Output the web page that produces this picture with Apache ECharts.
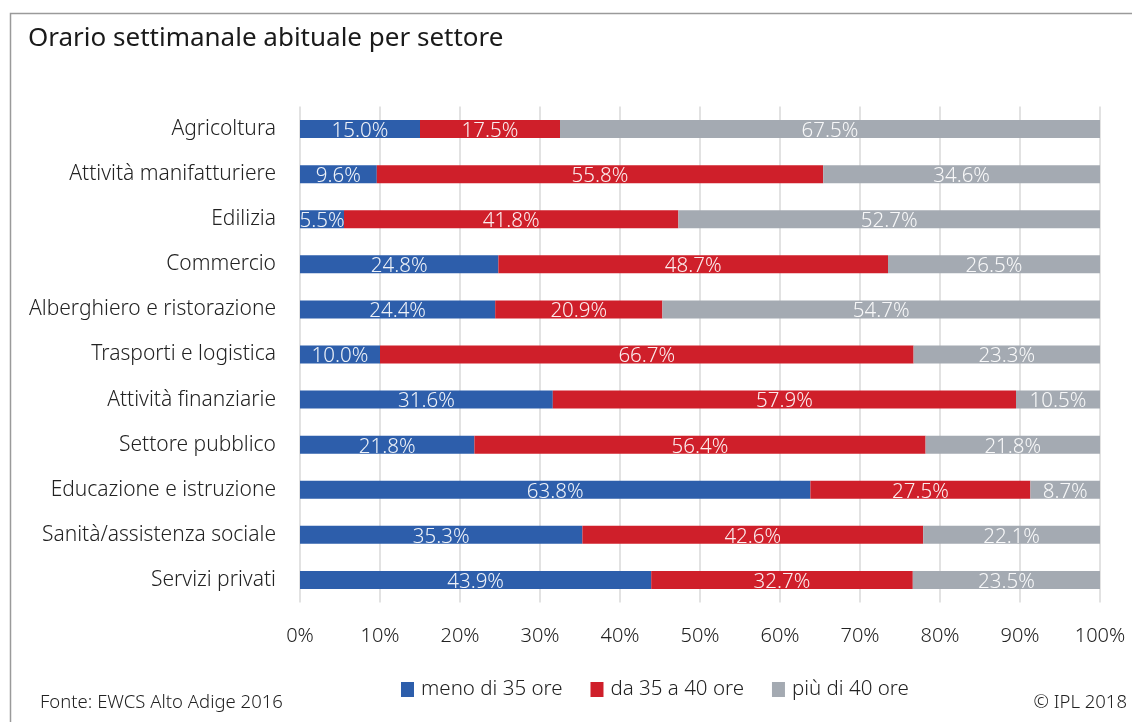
<!DOCTYPE html>
<html>
<head>
<meta charset="utf-8">
<script src="https://cdn.jsdelivr.net/npm/echarts@6/dist/echarts.min.js"></script>
<style>
  html, body { margin: 0; padding: 0; background: #ffffff; }
  #chart { width: 1132px; height: 722px; }
</style>
</head>
<body>
<div id="chart"></div>
<script>
// Settori (dall'alto verso il basso)
const categories = [
  'Agricoltura',
  'Attività manifatturiere',
  'Edilizia',
  'Commercio',
  'Alberghiero e ristorazione',
  'Trasporti e logistica',
  'Attività finanziarie',
  'Settore pubblico',
  'Educazione e istruzione',
  'Sanità/assistenza sociale',
  'Servizi privati'
];

// Quote percentuali per fascia oraria
const menoDi35 = [15.0, 9.6, 5.5, 24.8, 24.4, 10.0, 31.6, 21.8, 63.8, 35.3, 43.9];
const da35a40  = [17.5, 55.8, 41.8, 48.7, 20.9, 66.7, 57.9, 56.4, 27.5, 42.6, 32.7];
const piuDi40  = [67.5, 34.6, 52.7, 26.5, 54.7, 23.3, 10.5, 21.8, 8.7, 22.1, 23.5];

const seriesNames = ['meno di 35 ore', 'da 35 a 40 ore', 'più di 40 ore'];
const seriesColors = ['#2d5eab', '#cf1f2a', '#a4aab2'];

const FONT = '"Noto Sans", "Open Sans", sans-serif';

const chart = echarts.init(document.getElementById('chart'), null, { renderer: 'canvas' });

function barSeries(name, data, color) {
  return {
    name: name,
    type: 'bar',
    stack: 'totale',
    data: data,
    barWidth: 18,
    itemStyle: { color: color },
    label: {
      show: true,
      position: 'inside',
      offset: [0, 2],
      color: 'rgba(255,255,255,0.92)',
      fontFamily: FONT,
      fontWeight: 300,
      fontSize: 20.5,
      formatter: p => p.value.toFixed(1) + '%'
    },
    emphasis: { disabled: true }
  };
}

chart.setOption({
  animation: false,
  backgroundColor: '#ffffff',
  textStyle: { fontFamily: FONT },
  title: {
    text: 'Orario settimanale abituale per settore',
    left: 23,
    top: 21,
    textStyle: { fontFamily: FONT, fontWeight: 400, fontSize: 26, color: '#1a1a1a' }
  },
  legend: {
    data: seriesNames,
    bottom: 17,
    left: 396,
    itemWidth: 13,
    itemHeight: 15,
    itemGap: 28,
    icon: 'rect',
    textStyle: { fontFamily: FONT, fontWeight: 300, fontSize: 20.5, color: '#222222', padding: [0, 0, 0, 2] }
  },
  grid: {
    left: 300,
    right: 32,
    top: 106.5,
    height: 496,
    containLabel: false
  },
  xAxis: {
    type: 'value',
    min: 0,
    max: 100,
    interval: 10,
    axisLine: { show: false },
    axisTick: { show: false },
    axisLabel: {
      formatter: '{value}%',
      margin: 24,
      fontFamily: FONT,
      fontWeight: 300,
      fontSize: 20,
      color: '#222222'
    },
    splitLine: { lineStyle: { color: '#d9d9d9', width: 1.5 } }
  },
  yAxis: {
    type: 'category',
    data: categories,
    inverse: true,
    axisLine: { show: false },
    axisTick: { show: false },
    axisLabel: {
      margin: 24,
      fontFamily: FONT,
      fontWeight: 300,
      fontSize: 21,
      color: '#222222'
    }
  },
  series: [
    barSeries(seriesNames[0], menoDi35, seriesColors[0]),
    barSeries(seriesNames[1], da35a40, seriesColors[1]),
    barSeries(seriesNames[2], piuDi40, seriesColors[2])
  ],
  graphic: [
    {
      type: 'rect',
      left: 8, top: 11,
      shape: { width: 1140, height: 730 },
      style: { fill: 'none', stroke: '#9a9a9a', lineWidth: 1.5 },
      silent: true
    },
    {
      type: 'text',
      left: 40, top: 693,
      style: { text: 'Fonte: EWCS Alto Adige 2016', fontFamily: FONT, fontWeight: 300, fontSize: 18.5, fill: '#222222' }
    },
    {
      type: 'text',
      right: 5, top: 693,
      style: { text: '© IPL 2018', fontFamily: FONT, fontWeight: 300, fontSize: 18.5, fill: '#222222' }
    }
  ]
});
</script>
</body>
</html>
